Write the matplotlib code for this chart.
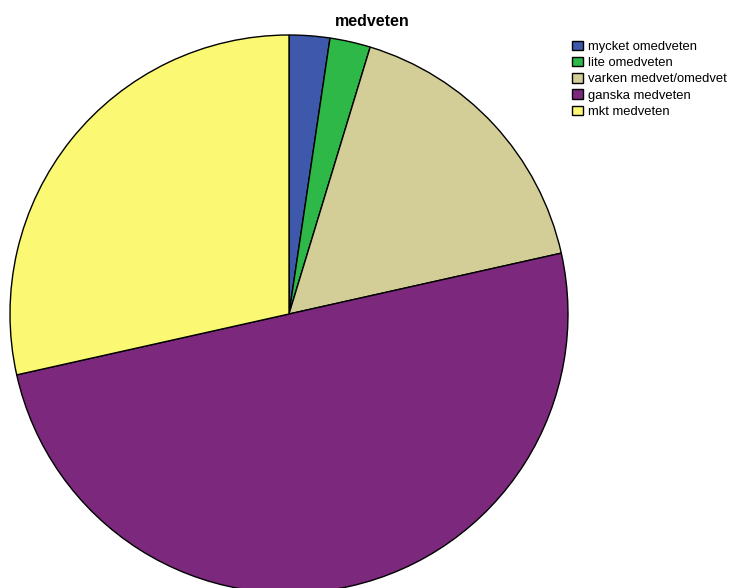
import matplotlib
matplotlib.use("Agg")
import matplotlib.pyplot as plt

plt.rcParams['font.family'] = ['Liberation Sans', 'DejaVu Sans']

categories = ["mycket omedveten", "lite omedveten", "varken medvet/omedvet",
              "ganska medveten", "mkt medveten"]
shares = [2.35, 2.35, 16.8, 50.0, 28.5]
colors = ["#3E58AC", "#2EB848", "#D3CE97", "#7C287D", "#FBF873"]
title = "medveten"

W, H = 730, 588
cx, cy, R = 289, 314, 279  # pie centre and radius in pixels

fig = plt.figure(figsize=(W / 100, H / 100), dpi=100)
ax = fig.add_axes([0, 0, 1, 1])

wedges, _ = ax.pie(shares, colors=colors, startangle=90, counterclock=False,
                   radius=1.0, wedgeprops=dict(edgecolor="black", linewidth=1.0))

ax.set_xlim(-cx / R, (W - cx) / R)
ax.set_ylim(-(H - cy) / R, cy / R)
ax.set_aspect("auto")
ax.axis("off")

fig.text(372 / W, 1 - 21 / H, title, ha="center", va="center",
         fontsize=11.5, fontweight="bold")

leg = fig.legend(wedges, categories, loc="upper left",
                 bbox_to_anchor=(569 / W, 1 - 38 / H), frameon=False,
                 fontsize=9.4, handlelength=0.85, handleheight=0.75,
                 handletextpad=0.4, labelspacing=0.3, borderpad=0.2,
                 borderaxespad=0)

fig.savefig("out.png", dpi=100)
